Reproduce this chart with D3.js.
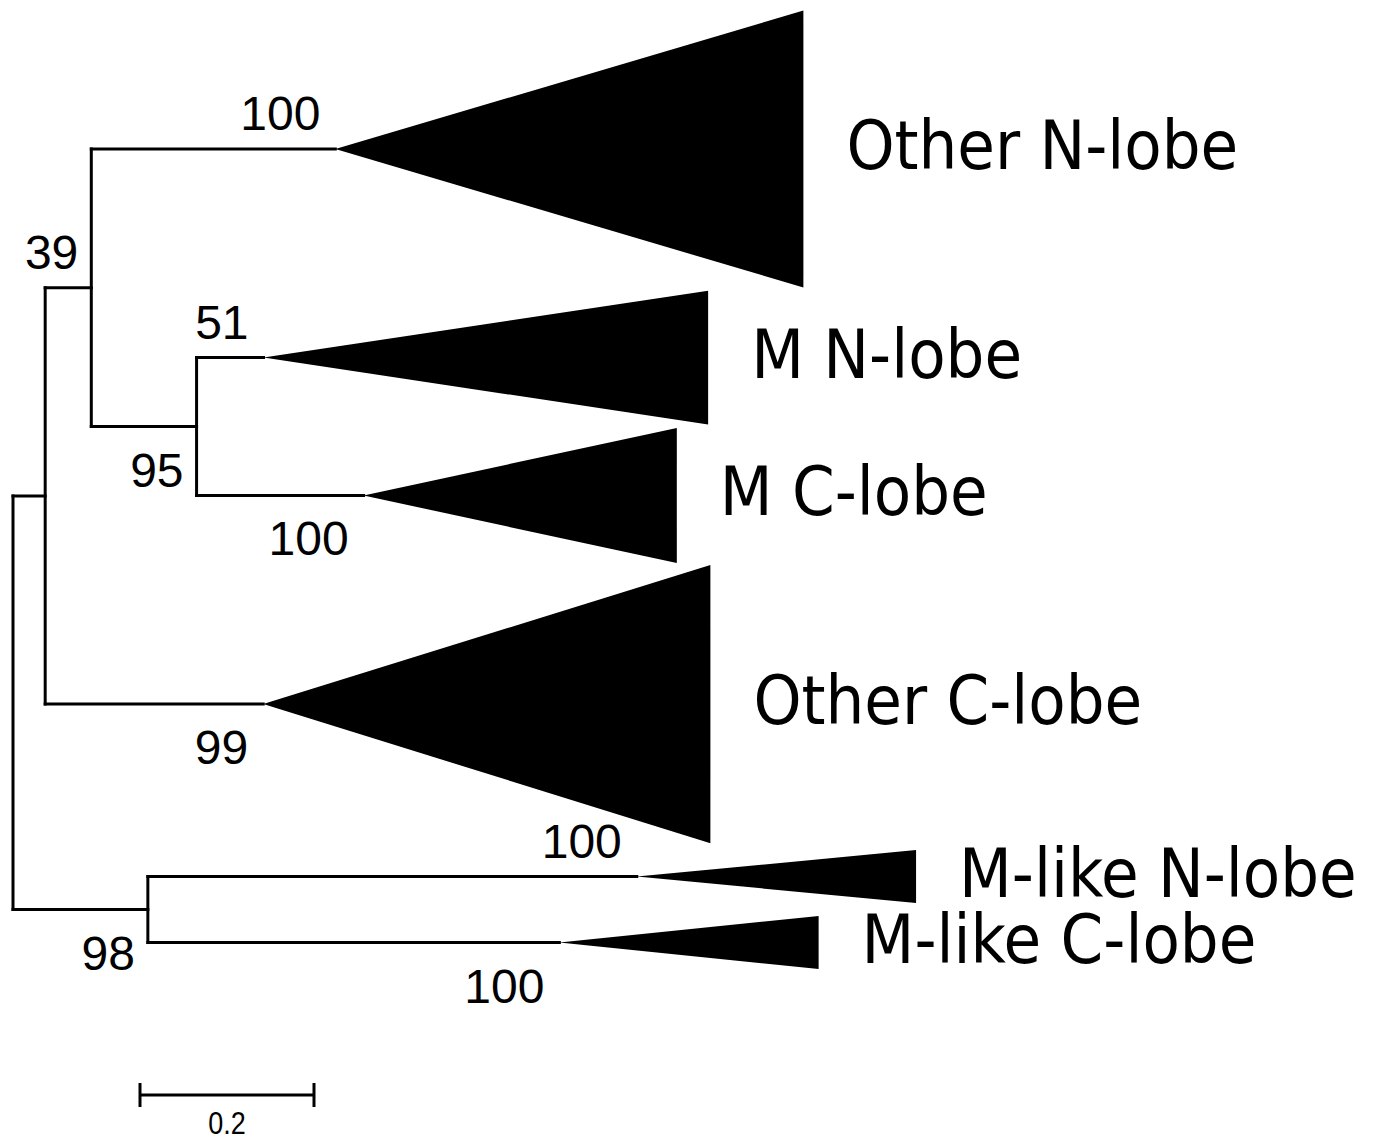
<!DOCTYPE html>
<html>
<head>
<meta charset="utf-8">
<script src="https://cdn.jsdelivr.net/npm/d3@7"></script>
<style>
  html, body { margin: 0; padding: 0; background: #fff; }
  svg { display: block; }
  .clade-label { font-family: "DejaVu Sans Condensed", "DejaVu Sans", sans-serif; font-stretch: condensed; font-size: 68px; fill: #000; }
  .support { font-family: "Liberation Sans", Arial, sans-serif; font-size: 48px; fill: #000; }
  .scale-label { font-family: "Liberation Sans", Arial, sans-serif; font-size: 31px; fill: #000; }
</style>
</head>
<body>
<svg id="tree" width="1375" height="1140"></svg>
<script>
// Internal nodes of the tree: id, parent, branch length, bootstrap support
const nodeIds      = ["root", "A", "B", "C", "D"];
const nodeParents  = [null, "root", "A", "B", "root"];
const nodeBranch   = [0, 0.037, 0.053, 0.121, 0.155];
const nodeSupport  = [null, null, 39, 95, 98];

// Collapsed clades (drawn as triangles)
const cladeNames   = ["Other N-lobe", "M N-lobe", "M C-lobe", "Other C-lobe", "M-like N-lobe", "M-like C-lobe"];
const cladeParents = ["B", "C", "C", "A", "D", "D"];
const cladeBranch  = [0.2805, 0.077, 0.192, 0.2506, 0.562, 0.473];
const cladeDepth   = [0.538, 0.511, 0.36, 0.514, 0.321, 0.298];
const cladeRow     = [10.49, 26.23, 36.64, 52.38, 65.4, 70.38];
const cladeSpan    = [20.9, 10.1, 10.2, 21.0, 4.0, 4.0];
const cladeSupport = [100, 51, 100, 99, 100, 100];

// Scale bar length in substitutions per site
const scaleBarValue = 0.2;

// Assemble a table in parent-before-child order and build the hierarchy
const table = [];
const addNode = i => table.push({ id: nodeIds[i], parent: nodeParents[i], len: nodeBranch[i], support: nodeSupport[i] });
const addClade = i => table.push({ id: cladeNames[i], parent: cladeParents[i], len: cladeBranch[i],
  depth: cladeDepth[i], row: cladeRow[i], span: cladeSpan[i], support: cladeSupport[i], clade: true });
addNode(0); addNode(1); addNode(2); addClade(0); addNode(3); addClade(1); addClade(2);
addClade(3); addNode(4); addClade(4); addClade(5);

const root = d3.stratify().id(d => d.id).parentId(d => d.parent)(table);

// Cumulative distance from the root
root.eachBefore(n => { n.dist = n.parent ? n.parent.dist + n.data.len : 0; });

const svg = d3.select("#tree");
const x = d3.scaleLinear().domain([0, 1]).range([13, 883]);
const y = d3.scaleLinear().domain([0, 1]).range([10, 23.25]);

// Vertical position: clades by row, internal nodes at midpoint of first and last child
root.eachAfter(n => {
  if (n.data.clade) n.yv = n.data.row;
  else n.yv = (n.children[0].yv + n.children[n.children.length - 1].yv) / 2;
});

const g = svg.append("g");
const stroke = 3;

// Horizontal branches
g.selectAll("line.branch")
  .data(root.descendants().filter(n => n.parent))
  .join("line")
  .attr("class", "branch")
  .attr("x1", n => x(n.parent.dist))
  .attr("x2", n => x(n.dist))
  .attr("y1", n => y(n.yv))
  .attr("y2", n => y(n.yv))
  .attr("stroke", "#000").attr("stroke-width", stroke).attr("stroke-linecap", "square");

// Vertical connectors at internal nodes
g.selectAll("line.connector")
  .data(root.descendants().filter(n => n.children))
  .join("line")
  .attr("class", "connector")
  .attr("x1", n => x(n.dist))
  .attr("x2", n => x(n.dist))
  .attr("y1", n => y(n.children[0].yv))
  .attr("y2", n => y(n.children[n.children.length - 1].yv))
  .attr("stroke", "#000").attr("stroke-width", stroke).attr("stroke-linecap", "square");

const clades = root.leaves();

// Collapsed clade triangles
g.selectAll("path.clade")
  .data(clades)
  .join("path")
  .attr("class", "clade")
  .attr("d", n => {
    const x0 = x(n.dist), x1 = x(n.dist + n.data.depth);
    return `M${x0},${y(n.yv)}L${x1},${y(n.yv - n.data.span / 2)}L${x1},${y(n.yv + n.data.span / 2)}Z`;
  })
  .attr("fill", "#000");

// Clade names
g.selectAll("text.clade-label")
  .data(clades)
  .join("text")
  .attr("class", "clade-label")
  .attr("x", n => x(n.dist + n.data.depth) + 43)
  .attr("y", n => y(n.yv) + 20)
  .text(n => n.id);

// Bootstrap support: first child labelled above its branch, second child below
const supported = root.descendants().filter(n => n.parent && n.data.support != null);
g.selectAll("text.support")
  .data(supported)
  .join("text")
  .attr("class", "support")
  .attr("text-anchor", "end")
  .attr("x", n => x(n.dist) - (n.data.clade ? 15 : 13))
  .attr("y", n => {
    const first = n.parent.children.indexOf(n) === 0;
    return y(n.yv) + (first ? -19 : 60);
  })
  .text(n => n.data.support);

// Scale bar
const barX = 140, barY = 1095;
const barLen = x(scaleBarValue) - x(0);
const bar = svg.append("g").attr("transform", `translate(${barX},${barY})`);
bar.append("line").attr("x1", 0).attr("x2", barLen).attr("y1", 0).attr("y2", 0)
  .attr("stroke", "#000").attr("stroke-width", stroke);
bar.selectAll("line.tick").data([0, barLen]).join("line")
  .attr("class", "tick")
  .attr("x1", d => d).attr("x2", d => d).attr("y1", -12).attr("y2", 12)
  .attr("stroke", "#000").attr("stroke-width", stroke);
bar.append("text").attr("class", "scale-label")
  .attr("text-anchor", "middle")
  .attr("transform", `translate(${barLen / 2},39) scale(0.87,1)`)
  .text(scaleBarValue);
</script>
</body>
</html>
